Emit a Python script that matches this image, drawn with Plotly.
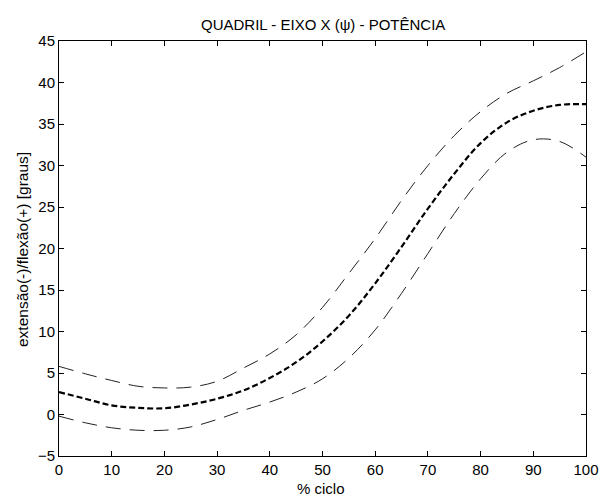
import plotly.graph_objects as go

# Gait cycle (% ciclo) and hip flexion/extension curves (graus)
ciclo = [0, 5, 10, 15, 20, 25, 30, 35, 40, 45, 50, 55, 60, 65, 70, 75, 80, 85, 90, 95, 100]
media = [2.7, 1.9, 1.1, 0.8, 0.75, 1.2, 1.9, 2.9, 4.4, 6.3, 8.8, 11.9, 15.8, 20.2, 24.8,
         29.0, 32.7, 35.2, 36.6, 37.3, 37.4]
superior = [5.8, 4.9, 4.1, 3.4, 3.2, 3.3, 4.0, 5.6, 7.3, 9.6, 12.9, 17.0, 21.2, 25.8, 30.0,
            33.6, 36.5, 38.7, 40.2, 41.8, 43.7]
inferior = [-0.2, -1.0, -1.6, -1.9, -1.9, -1.5, -0.6, 0.5, 1.5, 2.7, 4.3, 6.8, 10.2, 14.6,
            19.4, 24.2, 28.4, 31.6, 33.1, 32.9, 31.0]

x_ticks = list(range(0, 101, 10))
y_ticks = list(range(-5, 46, 5))

font = dict(family="Liberation Sans, Arial, sans-serif", size=15, color="black")

# plot-area geometry in pixels
W, H = 600, 497
L, R, T, B = 59, 14, 41, 41
pw, ph = W - L - R, H - T - B


def px_x(p):
    return (p - L) / pw


def px_y(p):
    return (H - B - p) / ph


fig = go.Figure()
for y_vals in (superior, inferior):
    fig.add_trace(go.Scatter(
        x=ciclo, y=y_vals, mode="lines", line_shape="spline",
        line=dict(color="#222222", width=1, dash="15px,9px"),
        showlegend=False, hoverinfo="skip",
    ))
fig.add_trace(go.Scatter(
    x=ciclo, y=media, mode="lines", line_shape="spline",
    line=dict(color="black", width=2.2, dash="6px,3px"),
    showlegend=False,
))

axis_common = dict(
    showline=True, linecolor="black", linewidth=1, mirror="ticks",
    ticks="inside", ticklen=5, tickcolor="black", tickwidth=1,
    showgrid=False, zeroline=False, tickfont=font, automargin=False,
)

fig.update_layout(
    width=W, height=H,
    margin=dict(l=L, r=R, t=T, b=B),
    paper_bgcolor="white", plot_bgcolor="white",
    font=font,
    xaxis=dict(range=[0, 100], tickvals=x_ticks, **axis_common),
    yaxis=dict(range=[-5, 45], tickvals=y_ticks, **axis_common),
    annotations=[
        dict(text="QUADRIL - EIXO X (ψ) - POTÊNCIA", xref="paper", yref="paper",
             x=0.5, y=px_y(25), xanchor="center", yanchor="middle",
             showarrow=False, font=font),
        dict(text="% ciclo", xref="paper", yref="paper",
             x=px_x(321), y=px_y(488), xanchor="center", yanchor="middle",
             showarrow=False, font=font),
        dict(text="extensão(-)/flexão(+) [graus]", xref="paper", yref="paper",
             x=px_x(22), y=px_y(250), xanchor="center", yanchor="middle",
             textangle=-90, showarrow=False, font=dict(font, size=15.5)),
    ],
)

fig.write_html("out.html")
